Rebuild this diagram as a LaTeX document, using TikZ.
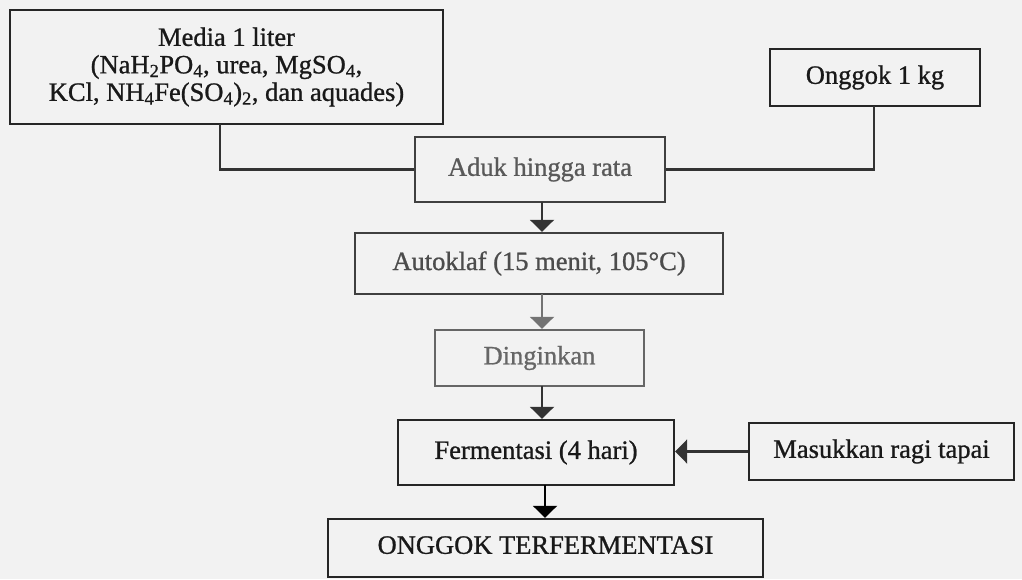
\documentclass[tikz,border=0pt]{standalone}
\usepackage{fontspec}
\setmainfont{Liberation Serif}[FakeBold=0.9]
\usetikzlibrary{arrows.meta}
\begin{document}
\begin{tikzpicture}[x=1pt,y=-1pt,
  box/.style={draw=black!85, line width=2.4pt, inner sep=0pt, align=center,
    font=\fontsize{26.5}{27.5}\selectfont, text=black!90},
  faded/.style={draw=black!60, text=black!60},
  conn/.style={draw=black!80, line width=2.2pt},
  arr/.style={conn, -{Triangle[width=24pt,length=12pt]}}]
\fill[black!5] (0,0) rectangle (1022,579);
\useasboundingbox (0,0) rectangle (1022,579);
\node[box, minimum width=433pt, minimum height=114pt] (media) at (226.5,67)
  {Media 1 liter\\(NaH\textsubscript{2}PO\textsubscript{4}, urea, MgSO\textsubscript{4},\\KCl, NH\textsubscript{4}Fe(SO\textsubscript{4})\textsubscript{2}, dan aquades)};
\node[box, minimum width=210pt, minimum height=57pt] (onggok) at (875,77.5) {Onggok 1 kg};
\node[box, draw=black!75, text=black!65, minimum width=250pt, minimum height=65pt] (aduk) at (540,169.5) {Aduk hingga rata};
\node[box, draw=black!75, text=black!70, minimum width=368pt, minimum height=61pt] (autoklaf) at (539,263.5) {Autoklaf (15 menit, 105°C)};
\node[box, faded, minimum width=209pt, minimum height=56pt] (dingin) at (539.5,358) {Dinginkan};
\node[box, minimum width=276pt, minimum height=65pt] (ferm) at (536,452.5) {Fermentasi (4 hari)};
\node[box, minimum width=265pt, minimum height=57pt] (ragi) at (881.5,451.5) {Masukkan ragi tapai};
\node[box, minimum width=435pt, minimum height=58pt, text depth=6pt] (hasil) at (545.5,548) {ONGGOK TERFERMENTASI};
\coordinate (m1) at (220,124);
\coordinate (o1) at (874,106);
\draw[conn] (m1) -- (m1 |- aduk.west) -- (aduk.west);
\draw[conn] (o1) -- (o1 |- aduk.east) -- (aduk.east);
\coordinate (a1) at (542,202);
\draw[arr] (a1) -- (a1 |- autoklaf.north);
\coordinate (k1) at (542,294);
\draw[arr, draw=black!55] (k1) -- (k1 |- dingin.north);
\coordinate (d1) at (542,386);
\draw[arr] (d1) -- (d1 |- ferm.north);
\coordinate (f1) at (545,485);
\draw[arr, draw=black] (f1) -- (f1 |- hasil.north);
\draw[arr] (ragi.west) -- (ragi.west -| ferm.east);
\end{tikzpicture}
\end{document}
